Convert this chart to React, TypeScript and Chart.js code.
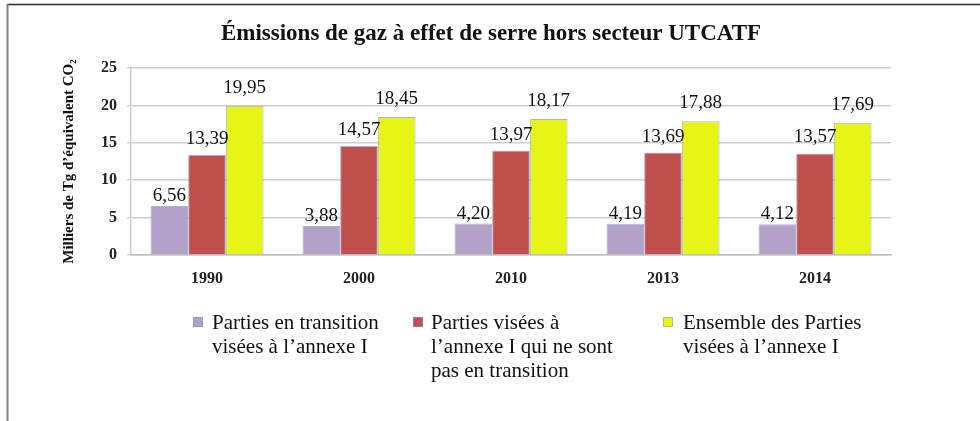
import React, { useEffect, useRef } from 'react';
import { Chart, registerables } from 'chart.js';

Chart.register(...registerables);

const chartTitle = 'Émissions de gaz à effet de serre hors secteur UTCATF';
const yAxisTitle = 'Milliers de Tg d’équivalent CO₂';
const categories = ['1990', '2000', '2010', '2013', '2014'];
const transitionValues = [6.56, 3.88, 4.2, 4.19, 4.12];
const nonTransitionValues = [13.39, 14.57, 13.97, 13.69, 13.57];
const totalValues = [19.95, 18.45, 18.17, 17.88, 17.69];
const yTickValues = [0, 5, 10, 15, 20, 25];
const legendLines = [
  ['Parties en transition', 'visées à l’annexe I'],
  ['Parties visées à', 'l’annexe I qui ne sont', 'pas en transition'],
  ['Ensemble des Parties', 'visées à l’annexe I'],
];

const COLORS = ['#b2a2c8', '#c0504d', '#e6f516'];
const LABEL_GAPS = [5, 11, 13];
const SERIF = '"Liberation Serif", "Times New Roman", serif';

const fmt = (v: number) => v.toFixed(2).replace('.', ',');

const decorPlugin = {
  id: 'decor',
  afterDraw(chart: any) {
    const ctx = chart.ctx;
    ctx.save();
    // frame
    ctx.strokeStyle = '#2a2a2a';
    ctx.lineWidth = 1.5;
    ctx.beginPath();
    ctx.moveTo(7, 4.5);
    ctx.lineTo(980, 4.5);
    ctx.stroke();
    ctx.strokeStyle = '#808080';
    ctx.lineWidth = 2;
    ctx.beginPath();
    ctx.moveTo(7.5, 4);
    ctx.lineTo(7.5, 421);
    ctx.stroke();

    // title
    ctx.fillStyle = '#111';
    ctx.font = `bold 23px ${SERIF}`;
    ctx.textAlign = 'center';
    ctx.textBaseline = 'alphabetic';
    ctx.fillText(chartTitle, 491, 40);

    // data labels
    ctx.font = `19px ${SERIF}`;
    ctx.fillStyle = '#111';
    chart.data.datasets.forEach((ds: any, i: number) => {
      const meta = chart.getDatasetMeta(i);
      meta.data.forEach((el: any, j: number) => {
        ctx.fillText(fmt(ds.data[j]), el.x, el.y - LABEL_GAPS[i]);
      });
    });

    // legend
    const itemX = [193, 413, 663];
    const textX = [212, 431, 683];
    ctx.textAlign = 'left';
    ctx.font = `21px ${SERIF}`;
    legendLines.forEach((lines, i) => {
      ctx.fillStyle = COLORS[i];
      ctx.fillRect(itemX[i], 317, 10, 10);
      ctx.strokeStyle = 'rgba(140,150,200,0.6)';
      ctx.lineWidth = 1;
      ctx.strokeRect(itemX[i] + 0.5, 317.5, 9, 9);
      ctx.fillStyle = '#111';
      lines.forEach((line, k) => {
        ctx.fillText(line, textX[i], 329 + k * 24);
      });
    });
    ctx.restore();
  },
};

export default function App() {
  const canvasRef = useRef<HTMLCanvasElement | null>(null);

  useEffect(() => {
    if (!canvasRef.current) return;
    const chart = new Chart(canvasRef.current, {
      type: 'bar',
      data: {
        labels: categories,
        datasets: [
          { label: legendLines[0].join(' '), data: transitionValues, backgroundColor: COLORS[0] },
          { label: legendLines[1].join(' '), data: nonTransitionValues, backgroundColor: COLORS[1] },
          { label: legendLines[2].join(' '), data: totalValues, backgroundColor: COLORS[2] },
        ].map((d) => ({
          ...d,
          borderColor: 'rgba(130,145,200,0.7)',
          borderWidth: 1,
          categoryPercentage: 0.744,
          barPercentage: 1,
        })),
      },
      options: {
        responsive: false,
        animation: false,
        layout: { padding: { top: 68, left: 0, right: 89, bottom: 0 } },
        plugins: {
          legend: { display: false },
          title: { display: false },
          tooltip: { enabled: false },
        },
        scales: {
          x: {
            grid: { display: false, drawTicks: false },
            border: { display: true, color: '#bdbdbd', width: 1.5 },
            ticks: {
              padding: 14,
              color: '#222',
              font: { family: SERIF, size: 16, weight: 'bold' },
            },
            afterFit: (s: any) => {
              s.height = 166;
            },
          },
          y: {
            min: 0,
            max: 25,
            afterBuildTicks: (s: any) => {
              s.ticks = yTickValues.map((v) => ({ value: v }));
            },
            grid: { color: '#cfcfcf', lineWidth: 1.5, tickLength: 4, drawTicks: true },
            border: { display: true, color: '#cfcfcf', width: 1.5 },
            ticks: {
              padding: 10,
              color: '#222',
              font: { family: SERIF, size: 16, weight: 'bold' },
            },
            title: {
              display: true,
              text: yAxisTitle,
              color: '#111',
              font: { family: SERIF, size: 15, weight: 'bold' },
              padding: { top: 60, bottom: 0 },
            },
            afterFit: (s: any) => {
              s.width = 131;
            },
          },
        },
      },
      plugins: [decorPlugin],
    });
    return () => chart.destroy();
  }, []);

  return (
    <div style={{ position: 'fixed', left: 0, top: 0, width: 980, height: 421, background: '#fff' }}>
      <canvas ref={canvasRef} width={980} height={421} style={{ display: 'block' }} />
    </div>
  );
}
